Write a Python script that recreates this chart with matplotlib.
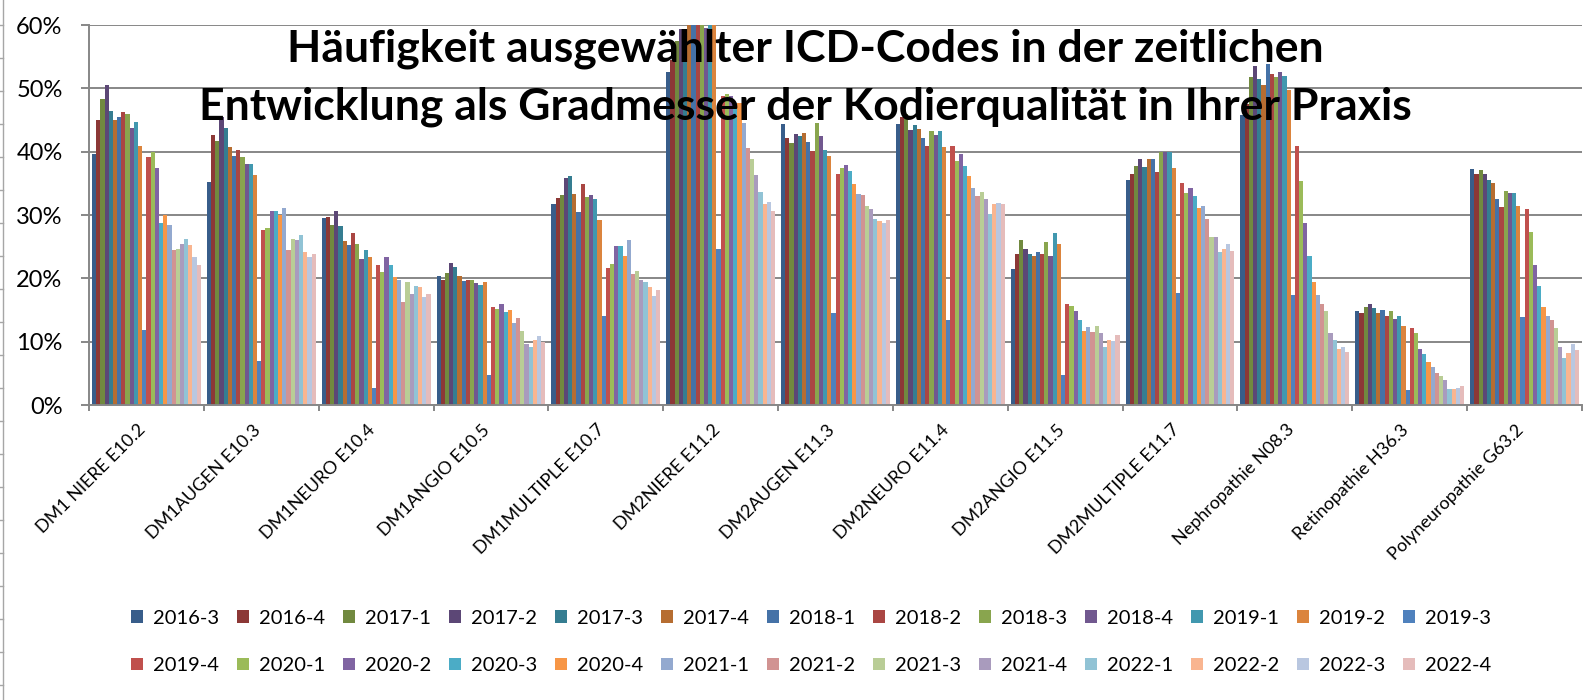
import numpy as np
import matplotlib.pyplot as plt
import matplotlib.transforms as mtransforms
from matplotlib.lines import Line2D

plt.rcParams['font.family'] = ['Lato', 'DejaVu Sans']

quartale = ['2016-3', '2016-4', '2017-1', '2017-2', '2017-3', '2017-4',
            '2018-1', '2018-2', '2018-3', '2018-4', '2019-1', '2019-2',
            '2019-3', '2019-4', '2020-1', '2020-2', '2020-3', '2020-4',
            '2021-1', '2021-2', '2021-3', '2021-4', '2022-1', '2022-2',
            '2022-3', '2022-4']

kategorien = ['DM1 NIERE E10.2', 'DM1AUGEN E10.3', 'DM1NEURO E10.4',
              'DM1ANGIO E10.5', 'DM1MULTIPLE E10.7', 'DM2NIERE E11.2',
              'DM2AUGEN E11.3', 'DM2NEURO E11.4', 'DM2ANGIO E11.5',
              'DM2MULTIPLE E11.7', 'Nephropathie N08.3', 'Retinopathie H36.3',
              'Polyneuropathie G63.2']

farben = ['#385D8A', '#8C3836', '#71893F', '#5C4776', '#357D91', '#B66D31',
          '#4572A7', '#AA4643', '#89A54E', '#71588F', '#4198AF', '#DB843D',
          '#4F81BD', '#C0504D', '#9BBB59', '#8064A2', '#4BACC6', '#F79646',
          '#93A9CF', '#D19392', '#B9CD96', '#A99BBD', '#91C3D5', '#F9B590',
          '#B9C7E0', '#E5BCBB']

# Werte in % je ICD-Code, Reihenfolge wie quartale
dm1_niere = [39.7, 45.0, 48.3, 50.5, 46.4, 45.0, 45.5, 46.3, 45.9, 43.7, 44.7, 40.9, 11.9,
             39.1, 39.9, 37.4, 28.8, 30.0, 28.5, 24.5, 24.6, 25.4, 26.2, 25.3, 23.3, 22.1]
dm1_augen = [35.2, 42.6, 41.7, 45.5, 43.8, 40.7, 39.3, 40.3, 39.1, 38.1, 38.0, 36.3, 7.0,
             27.6, 28.0, 30.6, 30.6, 30.0, 31.1, 24.5, 26.2, 26.1, 26.8, 24.1, 23.4, 23.9]
dm1_neuro = [29.6, 29.7, 28.4, 30.7, 28.3, 25.9, 25.3, 27.1, 25.4, 23.1, 24.5, 23.4, 2.7,
             22.1, 21.0, 23.3, 22.1, 20.2, 19.8, 16.3, 19.5, 17.6, 18.8, 18.6, 17.1, 17.5]
dm1_angio = [20.4, 19.7, 20.8, 22.4, 21.8, 20.3, 19.6, 19.8, 19.8, 19.3, 19.0, 19.4, 4.8,
             15.4, 15.1, 15.9, 14.7, 15.0, 12.9, 13.8, 11.7, 9.6, 9.1, 10.2, 10.9, 10.0]
dm1_multiple = [31.8, 32.7, 33.1, 35.8, 36.2, 33.3, 30.4, 34.9, 32.9, 33.1, 32.5, 29.2, 14.1,
                21.6, 22.2, 25.1, 25.1, 23.5, 26.0, 20.7, 21.2, 19.8, 19.4, 18.7, 17.2, 18.1]
dm2_niere = [52.6, 54.4, 57.5, 59.3, 58.6, 61.0, 62.0, 63.0, 62.0, 59.6, 61.0, 60.5, 24.6,
             48.8, 49.1, 48.8, 47.7, 47.7, 44.6, 40.6, 38.8, 36.3, 33.6, 31.8, 32.1, 30.6]
dm2_augen = [44.3, 42.2, 41.3, 42.8, 42.5, 42.9, 41.5, 40.1, 44.5, 42.5, 40.3, 39.3, 14.6,
             36.5, 37.5, 37.9, 37.0, 34.9, 33.3, 33.1, 31.4, 30.9, 29.4, 29.1, 28.8, 29.2]
dm2_neuro = [44.3, 45.5, 46.0, 43.5, 44.2, 43.6, 42.1, 40.9, 43.2, 42.6, 43.3, 40.7, 13.4,
             40.9, 38.6, 39.6, 37.7, 36.1, 34.2, 33.0, 33.6, 32.5, 30.1, 31.7, 31.9, 31.7]
dm2_angio = [21.5, 23.8, 26.0, 24.7, 23.9, 23.6, 24.2, 23.8, 25.7, 23.6, 27.1, 25.4, 4.7,
             15.9, 15.7, 14.8, 13.4, 11.7, 12.3, 11.6, 12.5, 11.4, 9.2, 10.3, 10.1, 11.1]
dm2_multiple = [35.5, 36.4, 37.7, 38.8, 37.6, 38.9, 38.8, 36.8, 40.0, 40.0, 39.9, 37.5, 17.7,
                35.0, 33.4, 34.2, 33.0, 31.1, 31.5, 29.3, 26.5, 26.5, 24.2, 24.6, 25.5, 24.3]
nephropathie = [45.8, 47.5, 51.8, 53.6, 51.4, 50.5, 53.9, 52.3, 51.8, 52.6, 51.9, 49.8, 17.3,
                40.9, 35.3, 28.8, 23.5, 19.5, 17.3, 15.9, 14.8, 11.3, 10.3, 8.9, 9.1, 8.3]
retinopathie = [14.8, 14.5, 15.4, 15.9, 15.3, 14.5, 15.0, 14.0, 14.8, 13.6, 14.0, 12.5, 2.4,
                12.2, 11.3, 8.8, 8.1, 6.8, 6.0, 5.0, 4.6, 3.9, 2.5, 2.5, 2.7, 3.0]
polyneuropathie = [37.2, 36.4, 37.1, 36.5, 35.5, 35.0, 32.5, 31.2, 33.8, 33.4, 33.5, 31.4, 13.9,
                   30.9, 27.3, 22.1, 18.8, 15.4, 14.1, 13.4, 12.1, 9.1, 7.4, 8.2, 9.7, 8.7]

werte = np.array([dm1_niere, dm1_augen, dm1_neuro, dm1_angio, dm1_multiple,
                  dm2_niere, dm2_augen, dm2_neuro, dm2_angio, dm2_multiple,
                  nephropathie, retinopathie, polyneuropathie])

W, H = 1595, 700
fig = plt.figure(figsize=(W / 100, H / 100), dpi=100)
ax = fig.add_axes([89 / W, 1 - 405 / H, (1582 - 89) / W, (405 - 25) / H])

x = np.arange(len(kategorien))
breite = 0.948 / len(quartale)
handles = []
for i, q in enumerate(quartale):
    b = ax.bar(x + (i - (len(quartale) - 1) / 2) * breite, werte[:, i], breite,
               color=farben[i], label=q, linewidth=0)
    handles.append(b)

grau = '#878787'
ax.set_xlim(-0.5, len(kategorien) - 0.5)
ax.set_ylim(0, 60)
ax.set_yticks(range(0, 61, 10))
ax.yaxis.set_major_formatter(lambda v, p: f'{v:.0f}%')
ax.grid(axis='y', color=grau, linewidth=1.4)
ax.set_axisbelow(True)
for s in ['top', 'right']:
    ax.spines[s].set_visible(False)
for s in ['left', 'bottom']:
    ax.spines[s].set_color(grau)
    ax.spines[s].set_linewidth(1.4)

ax.tick_params(axis='y', length=6, width=1.4, color=grau, pad=13, labelsize=17)
ax.set_xticks(x)
ax.set_xticklabels(kategorien, rotation=45, ha='right', rotation_mode='anchor', fontsize=13)
ax.tick_params(axis='x', which='major', length=0, pad=12)
verschiebung = mtransforms.ScaledTranslation(-0.09, 0, fig.dpi_scale_trans)
for lab in ax.get_xticklabels():
    lab.set_transform(lab.get_transform() + verschiebung)
ax.set_xticks(np.arange(-0.5, len(kategorien)), minor=True)
ax.tick_params(axis='x', which='minor', length=4, width=1.4, color=grau)

fig.text(805 / W, 1 - 49 / H, 'Häufigkeit ausgewählter ICD-Codes in der zeitlichen',
         ha='center', va='center', fontsize=32, fontweight='bold')
fig.text(805 / W, 1 - 107 / H, 'Entwicklung als Gradmesser der Kodierqualität in Ihrer Praxis',
         ha='center', va='center', fontsize=32, fontweight='bold')

# Legende: erste Zeile 2016-3 .. 2019-3, zweite Zeile 2019-4 .. 2022-4
n = 13
reihenfolge = []
for k in range(n):
    reihenfolge += [k, k + n]
fig.legend([handles[k] for k in reihenfolge], [quartale[k] for k in reihenfolge],
           ncol=n, loc='center', bbox_to_anchor=(811 / W, 1 - 642 / H), frameon=False,
           fontsize=14.5, handlelength=0.6, handleheight=0.6, handletextpad=0.5,
           columnspacing=0.88, labelspacing=1.5)

# graue Linie am linken Rand
fig.add_artist(Line2D([3 / W, 3 / W], [0, 1], transform=fig.transFigure, color='#a6a6a6', lw=1))
for yy in range(25, H, 33):
    fig.add_artist(Line2D([0, 3 / W], [1 - yy / H] * 2, transform=fig.transFigure,
                          color='#a6a6a6', lw=1))

fig.savefig('out.png', dpi=100)
